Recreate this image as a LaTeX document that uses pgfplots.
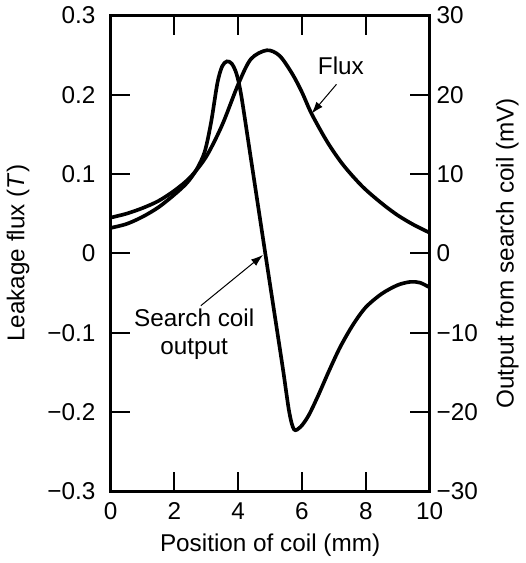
\documentclass[border=0pt]{standalone}
\usepackage{fontspec}
\setmainfont{Liberation Sans}
\usepackage{pgfplots}
\usepackage{pgfplotstable}
\pgfplotsset{compat=1.18}
\usetikzlibrary{arrows.meta}

% leakage flux (T)
\pgfplotstableread{
x y
0    0.045
0.5  0.050
1.0  0.057
1.5  0.066
2.0  0.079
2.5  0.096
3.0  0.122
3.5  0.162
4.0  0.213
4.4  0.245
4.9  0.256
5.3  0.249
5.7  0.226
6.0  0.203
6.3  0.176
6.8  0.140
7.3  0.111
7.9  0.084
8.5  0.063
9.0  0.048
9.5  0.036
10   0.026
}\flux

% search coil output (mV)
\pgfplotstableread{
x y
0    3.2
0.5  3.7
1.0  4.6
1.5  5.8
2.0  7.4
2.4  8.9
2.7  10.6
2.95 12.8
3.15 16.5
3.35 21.5
3.5  23.6
3.65 24.2
3.8  23.9
3.95 22.6
4.1  19.8
4.4  11.9
4.8  1.3
5.1  -6.6
5.4  -14.5
5.6  -20.0
5.75 -22.2
5.95 -21.9
6.2  -20.5
6.5  -18.0
6.85 -14.8
7.2  -11.8
7.6  -9.0
8.0  -6.8
8.5  -5.1
9.0  -4.0
9.4  -3.6
9.7  -3.7
10   -4.3
}\coil

\begin{document}
\begin{tikzpicture}[font=\fontsize{12}{14}\selectfont]
\pgfplotsset{
  every axis/.append style={
    width=157.5pt, height=235pt, scale only axis,
    xmin=0, xmax=10,
    axis line style={line width=1.5pt},
    tick style={line width=1pt, black},
    major tick length=9.5pt,
    tick align=inside,
  }
}
\begin{axis}[
  ymin=-0.3, ymax=0.3,
  xtick={0,2,4,6,8,10},
  xtick pos=both,
  ytick={-0.3,-0.2,-0.1,0,0.1,0.2,0.3},
  yticklabels={−0.3,−0.2,−0.1,0,0.1,0.2,0.3},
  ytick pos=left,
  yticklabel style={xshift=-4pt},
  xticklabel style={yshift=-2pt},
  /pgf/number format/assume math mode=true,
  xlabel={Position of coil (mm)},
  ylabel={Leakage flux (\textit{T})},
  ylabel style={yshift=2pt},
]
\addplot[black, line width=1.8pt, smooth] table {\flux};
\node at (axis cs:7.22,0.2365) {Flux};
\draw[-{Latex[length=6pt,width=4pt]}, line width=0.5pt] (axis cs:7.08,0.213) -- (axis cs:6.3,0.176);
\node[align=center, inner sep=0pt] at (axis cs:2.62,-0.102) {Search coil\\output};
\draw[-{Latex[length=6pt,width=4pt]}, line width=0.5pt] (axis cs:2.83,-0.066) -- (axis cs:4.78,-0.002);
\end{axis}
\begin{axis}[
  ymin=-30, ymax=30,
  axis x line=none,
  ytick pos=right,
  ytick={-30,-20,-10,0,10,20,30},
  yticklabels={−30,−20,−10,0,10,20,30},
  yticklabel pos=right,
  ylabel={Output from search coil (mV)},
  ylabel style={yshift=-2pt},
]
\addplot[black, line width=1.8pt, smooth] table {\coil};
\end{axis}
\end{tikzpicture}
\end{document}
